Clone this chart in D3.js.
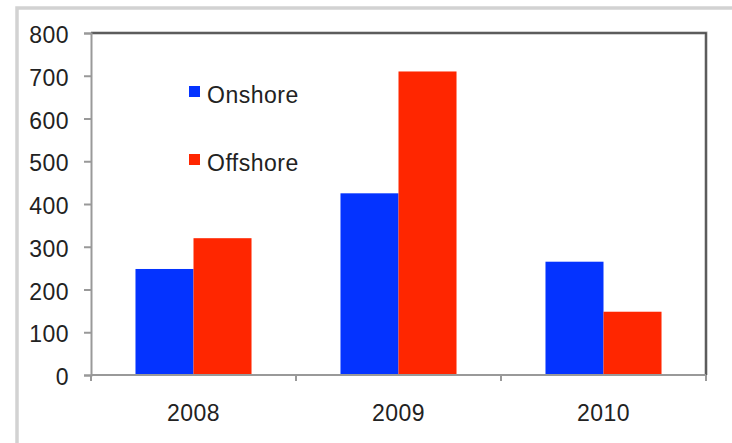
<!DOCTYPE html>
<html>
<head>
<meta charset="utf-8">
<script src="https://cdn.jsdelivr.net/npm/d3@7"></script>
<style>
  html, body { margin: 0; padding: 0; background: #fff; }
  svg { display: block; }
  text { font-family: "Liberation Sans", Arial, sans-serif; fill: #222; letter-spacing: 0.5px; }
</style>
</head>
<body>
<svg id="chart" width="732" height="443"></svg>
<script>
const categories = ["2008", "2009", "2010"];
const seriesNames = ["Onshore", "Offshore"];
const onshore = [248, 425, 265];
const offshore = [320, 710, 148];
const seriesColors = ["#0433ff", "#ff2600"];
const yTicks = [0, 100, 200, 300, 400, 500, 600, 700, 800];

const svg = d3.select("#chart");
const m = { left: 91, right: 706, top: 33, bottom: 375 };

// outer frame (clipped at right/bottom in reference)
svg.append("rect")
  .attr("x", 17).attr("y", 8).attr("width", 800).attr("height", 600)
  .attr("fill", "#fff").attr("stroke", "#d2d2d2").attr("stroke-width", 3.5);

const x0 = d3.scaleBand().domain(categories).range([m.left, m.right])
  .paddingInner(0.434).paddingOuter(0.217);
const x1 = d3.scaleBand().domain(seriesNames).range([0, x0.bandwidth()]);
const y = d3.scaleLinear().domain([0, 800]).range([m.bottom, m.top]);

const data = categories.map((c, i) => ({ cat: c, vals: [onshore[i], offshore[i]] }));

// bars
const g = svg.append("g");
data.forEach(d => {
  d.vals.forEach((v, j) => {
    g.append("rect")
      .attr("x", x0(d.cat) + x1(seriesNames[j]))
      .attr("y", y(v))
      .attr("width", x1.bandwidth())
      .attr("height", y(0) - y(v))
      .attr("fill", seriesColors[j]);
  });
});

// top/right frame of plot area
svg.append("path")
  .attr("d", `M${m.left},${m.top}H${m.right}V${m.bottom}`)
  .attr("fill", "none").attr("stroke", "#a5a5a5").attr("stroke-width", 3);
svg.append("path")
  .attr("d", `M${m.left},${m.top}H${m.right}V${m.bottom}`)
  .attr("fill", "none").attr("stroke", "#444").attr("stroke-width", 1.5);

// y axis
const yAxis = svg.append("g").attr("transform", `translate(${m.left},0)`)
  .call(d3.axisLeft(y).tickValues(yTicks).tickSize(7).tickPadding(15).tickFormat(d3.format("d")));
yAxis.select(".domain").attr("stroke", "#999").attr("stroke-width", 2);
yAxis.selectAll(".tick line").attr("stroke", "#999").attr("stroke-width", 2);
yAxis.selectAll(".tick text").attr("font-size", 23).attr("fill", "#222")
  .attr("dy", "0.42em")
  .style("font-family", "'Liberation Sans', Arial, sans-serif");

// x axis
const xEdges = d3.scaleOrdinal().domain(d3.range(categories.length + 1))
  .range(d3.range(categories.length + 1).map(i => m.left + i * x0.step()));
const xAxis = svg.append("g").attr("transform", `translate(0,${m.bottom})`);
xAxis.append("line").attr("x1", m.left).attr("x2", m.right)
  .attr("stroke", "#999").attr("stroke-width", 2);
d3.range(categories.length + 1).forEach(i => {
  const xx = xEdges(i);
  xAxis.append("line").attr("x1", xx).attr("x2", xx).attr("y1", 0).attr("y2", 6)
    .attr("stroke", "#999").attr("stroke-width", 2);
});
categories.forEach(c => {
  xAxis.append("text")
    .attr("x", x0(c) + x0.bandwidth() / 2)
    .attr("y", 46)
    .attr("text-anchor", "middle")
    .attr("font-size", 23)
    .text(c);
});

// legend
const legend = svg.append("g");
const legendY = [91, 159];
seriesNames.forEach((s, j) => {
  legend.append("rect")
    .attr("x", 189).attr("y", legendY[j] - 5).attr("width", 11).attr("height", 11)
    .attr("fill", seriesColors[j]);
  legend.append("text")
    .attr("x", 207).attr("y", legendY[j] + 11.5)
    .attr("font-size", 23)
    .text(s);
});
</script>
</body>
</html>
